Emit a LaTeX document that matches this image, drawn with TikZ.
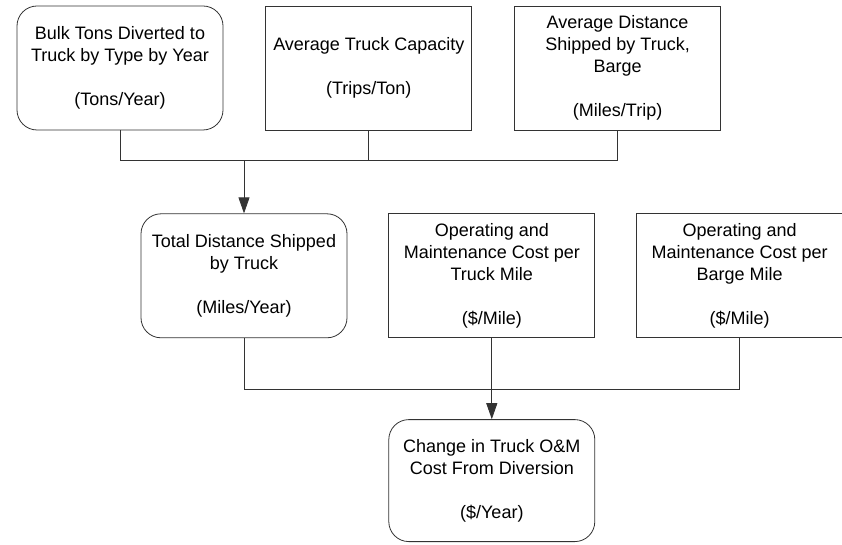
\documentclass[tikz,border=0pt]{standalone}
\usepackage{fontspec}
\setmainfont{Liberation Sans}
\usepackage{tikz}
\usetikzlibrary{arrows.meta, positioning, calc}

\begin{document}
\begin{tikzpicture}[
            node distance=83pt and 42pt,
            box/.style={rectangle, draw=black!80, line width=0.8pt, minimum width=206pt, minimum height=124pt, align=center, font=\fontsize{18}{22}\selectfont},
            rbox/.style={box, rounded corners=20pt},
            line/.style={draw=black!80, line width=0.8pt},
            arrow/.style={line, -{Triangle[length=16pt, width=11pt]}}
        ]
            \useasboundingbox (0,0) rectangle (842pt,544pt);

            \node[rbox] (bulk) at (120pt,476pt) {Bulk Tons Diverted to\\Truck by Type by Year\\[22pt](Tons/Year)};
            \node[box, right=of bulk] (capacity) {Average Truck Capacity\\[22pt](Trips/Ton)};
            \node[box, right=of capacity] (avgDist) {Average Distance\\Shipped by Truck,\\Barge\\[22pt](Miles/Trip)};

            \node[rbox, below=of bulk, xshift=124pt] (totalDist) {Total Distance Shipped\\by Truck\\[22pt](Miles/Year)};
            \node[box, right=41pt of totalDist] (truckOM) {Operating and\\Maintenance Cost per\\Truck Mile\\[22pt](\$/Mile)};
            \node[box, right=41pt of truckOM] (bargeOM) {Operating and\\Maintenance Cost per\\Barge Mile\\[22pt](\$/Mile)};

            \node[rbox, below=81pt of truckOM, minimum height=122pt] (change) {Change in Truck O\&M\\Cost From Diversion\\[22pt](\$/Year)};

            % collect the first row
            \coordinate (topBus) at ([yshift=-30pt]bulk.south);
            \draw[line] (bulk.south) |- (avgDist.south |- topBus) -- (avgDist.south);
            \draw[line] (capacity.south) -- (capacity.south |- topBus);
            \draw[arrow] (totalDist.north |- topBus) -- (totalDist.north);

            % collect the second row
            \coordinate (botBus) at ([yshift=-51pt]totalDist.south);
            \draw[line] (totalDist.south) |- (bargeOM.south |- botBus) -- (bargeOM.south);
            \draw[arrow] (truckOM.south) -- (change.north);
        \end{tikzpicture}
\end{document}
